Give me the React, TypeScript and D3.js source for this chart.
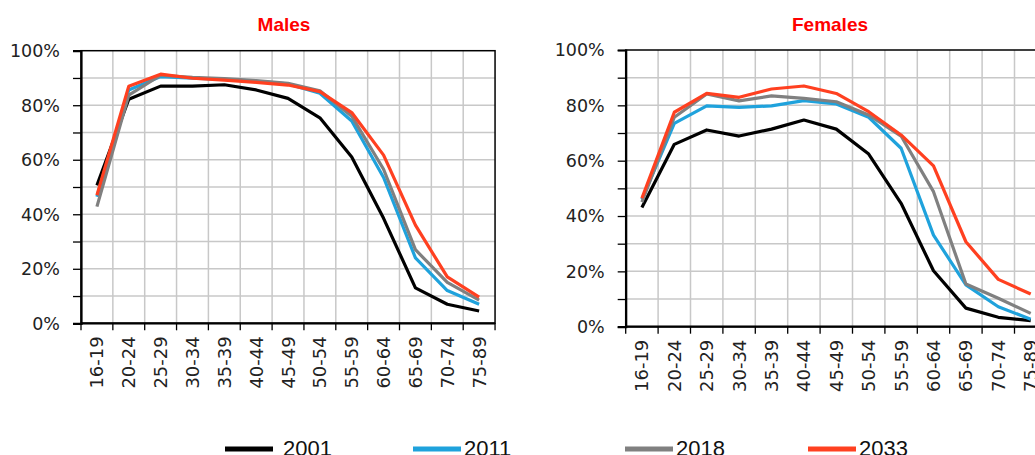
import React, { useEffect, useRef } from "react";
import * as d3 from "d3";

const ageGroups = ["16-19", "20-24", "25-29", "30-34", "35-39", "40-44", "45-49", "50-54", "55-59", "60-64", "65-69", "70-74", "75-89"];
const years = ["2001", "2011", "2018", "2033"];
const colors = ["#000000", "#1fa2dc", "#808080", "#ff4020"];
const yTicks = [0, 0.2, 0.4, 0.6, 0.8, 1];

// males participation by year
const males2001 = [0.506, 0.822, 0.87, 0.87, 0.875, 0.856, 0.825, 0.754, 0.61, 0.385, 0.13, 0.07, 0.045];
const males2011 = [0.464, 0.856, 0.905, 0.899, 0.895, 0.888, 0.878, 0.844, 0.742, 0.535, 0.24, 0.12, 0.07];
const males2018 = [0.428, 0.837, 0.91, 0.902, 0.898, 0.89, 0.88, 0.853, 0.76, 0.565, 0.27, 0.15, 0.085];
const males2033 = [0.47, 0.87, 0.914, 0.899, 0.892, 0.884, 0.874, 0.85, 0.773, 0.617, 0.36, 0.17, 0.096];

// females participation by year
const females2001 = [0.431, 0.659, 0.711, 0.689, 0.714, 0.747, 0.714, 0.624, 0.446, 0.202, 0.067, 0.034, 0.022];
const females2011 = [0.46, 0.735, 0.798, 0.793, 0.798, 0.817, 0.805, 0.757, 0.645, 0.331, 0.151, 0.072, 0.027];
const females2018 = [0.45, 0.757, 0.841, 0.816, 0.834, 0.825, 0.813, 0.765, 0.689, 0.488, 0.154, 0.103, 0.048];
const females2033 = [0.464, 0.775, 0.843, 0.829, 0.859, 0.87, 0.843, 0.777, 0.693, 0.581, 0.307, 0.171, 0.118];

const panels = [
  { title: "Males", series: [males2001, males2011, males2018, males2033], x0: 81, bw: 31.85, top: 50.7, bottom: 323.3, titleX: 284 },
  { title: "Females", series: [females2001, females2011, females2018, females2033], x0: 625.7, bw: 32.4, top: 50, bottom: 326.7, titleX: 830 },
];

function App() {
  const svgRef = useRef<SVGSVGElement>(null);

  useEffect(() => {
    const svg = d3.select(svgRef.current);
    svg.selectAll("*").remove();

    panels.forEach((p) => {
      const w = p.bw * ageGroups.length;
      const x = d3.scaleBand().domain(ageGroups).range([p.x0, p.x0 + w]).padding(0);
      const y = d3.scaleLinear().domain([0, 1]).range([p.bottom, p.top]);
      const g = svg.append("g");

      // gridlines
      g.selectAll(".hgrid")
        .data(d3.range(1, 10).map((d) => d / 10))
        .join("line")
        .attr("x1", p.x0)
        .attr("x2", p.x0 + w)
        .attr("y1", (d) => y(d))
        .attr("y2", (d) => y(d))
        .attr("stroke", "#c8c8c8")
        .attr("stroke-width", 1.5);
      g.selectAll(".vgrid")
        .data(ageGroups.slice(1))
        .join("line")
        .attr("x1", (d) => x(d)!)
        .attr("x2", (d) => x(d)!)
        .attr("y1", p.top)
        .attr("y2", p.bottom)
        .attr("stroke", "#c8c8c8")
        .attr("stroke-width", 1.5);

      g.append("rect")
        .attr("x", p.x0)
        .attr("y", p.top)
        .attr("width", w)
        .attr("height", p.bottom - p.top)
        .attr("fill", "none")
        .attr("stroke", "#000")
        .attr("stroke-width", 1.5);

      // y axis
      const yAxis = d3.axisLeft(y).tickValues(d3.range(0, 11).map((d) => d / 10)).tickSize(8).tickFormat(() => "");
      g.append("g")
        .attr("transform", `translate(${p.x0},0)`)
        .call(yAxis)
        .call((a) => a.select(".domain").attr("stroke-width", 2.2))
        .call((a) => a.selectAll(".tick line").attr("stroke-width", 1.3));
      g.selectAll(".ylab")
        .data(yTicks)
        .join("text")
        .attr("x", p.x0 - 21)
        .attr("y", (d) => y(d))
        .attr("dy", "0.36em")
        .attr("text-anchor", "end")
        .attr("font-family", "DejaVu Sans")
        .attr("font-size", 17.5)
        .attr("fill", "#222")
        .text((d) => d3.format(".0%")(d));

      // x axis
      const xTicks = d3.range(0, ageGroups.length + 1).map((i) => p.x0 + i * p.bw);
      g.append("line")
        .attr("x1", p.x0)
        .attr("x2", p.x0 + w)
        .attr("y1", p.bottom)
        .attr("y2", p.bottom)
        .attr("stroke", "#000")
        .attr("stroke-width", 2.2);
      g.selectAll(".xtick")
        .data(xTicks)
        .join("line")
        .attr("x1", (d) => d)
        .attr("x2", (d) => d)
        .attr("y1", p.bottom)
        .attr("y2", p.bottom + 7)
        .attr("stroke", "#000")
        .attr("stroke-width", 1.3);
      g.selectAll(".xlab")
        .data(ageGroups)
        .join("text")
        .attr("transform", (d) => `translate(${x(d)! + x.bandwidth() / 2},${p.bottom + 13}) rotate(-90)`)
        .attr("dy", "0.36em")
        .attr("text-anchor", "end")
        .attr("font-family", "DejaVu Sans")
        .attr("font-size", 18)
        .attr("fill", "#222")
        .text((d) => d);

      // lines
      const line = d3
        .line<number>()
        .x((d, i) => x(ageGroups[i])! + x.bandwidth() / 2)
        .y((d) => y(d));
      g.selectAll(".series")
        .data(p.series)
        .join("path")
        .attr("d", (d) => line(d))
        .attr("fill", "none")
        .attr("stroke", (d, i) => colors[i])
        .attr("stroke-width", 3.2)
        .attr("stroke-linejoin", "round");

      svg.append("text")
        .attr("x", p.titleX)
        .attr("y", 31)
        .attr("text-anchor", "middle")
        .attr("font-family", "Liberation Sans, Arial")
        .attr("font-weight", "bold")
        .attr("font-size", 19)
        .attr("fill", "#ff0000")
        .text(p.title);
    });

    // legend
    const legendX = [225, 413, 625, 808];
    const lg = svg.selectAll(".legend").data(years).join("g").attr("transform", (d, i) => `translate(${legendX[i]},0)`);
    lg.append("line")
      .attr("x1", 0)
      .attr("x2", 48)
      .attr("y1", 449)
      .attr("y2", 449)
      .attr("stroke", (d, i) => colors[i])
      .attr("stroke-width", 5);
    lg.append("text")
      .attr("x", (d, i) => (i === 0 ? 58 : 51))
      .attr("y", 456)
      .attr("font-family", "Liberation Sans, Arial")
      .attr("font-size", 22)
      .attr("fill", "#111")
      .text((d) => d);
  }, []);

  return (
    <div style={{ position: "absolute", left: 0, top: 0 }}>
      <svg ref={svgRef} width={1035} height={455} style={{ display: "block", background: "#fff" }}></svg>
    </div>
  );
}

export default App;
